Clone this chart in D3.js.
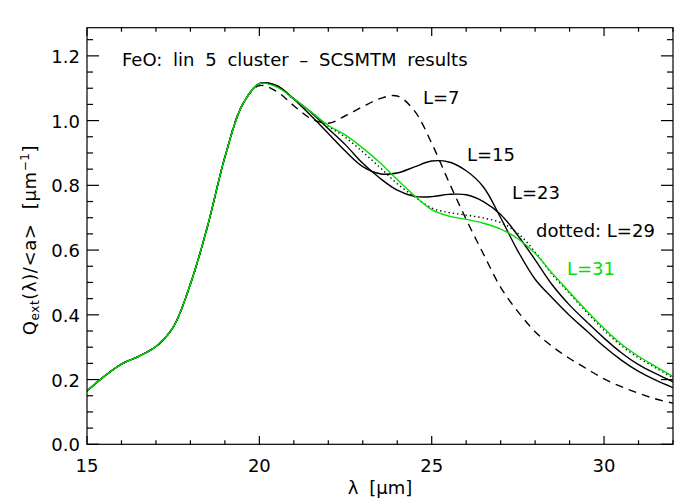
<!DOCTYPE html>
<html><head><meta charset="utf-8">
<script src="https://cdn.jsdelivr.net/npm/d3@7"></script>
<style>
body{margin:0;background:#fff;}
text{font-family:"DejaVu Sans",sans-serif;}
</style></head>
<body><svg id="c" width="700" height="500"></svg>
<script>
// wavelength grid (micron)
const lambda = [15,15.5,16,16.5,17,17.5,18,18.5,19,19.5,20,20.5,21,21.5,22,22.5,23,23.5,24,24.5,25,25.5,26,26.5,27,27.5,28,28.5,29,29.5,30,30.5,31,31.5,32];
// common rising part (15 .. 19.5)
const rise = [0.165,0.210,0.248,0.272,0.302,0.362,0.495,0.675,0.887,1.047];
// values from 20 to 32
const L7  = rise.concat([1.108,1.090,1.046,1.006,0.992,1.015,1.043,1.068,1.076,1.030,0.930,0.810,0.695,0.588,0.485,0.410,0.348,0.302,0.265,0.233,0.202,0.178,0.158,0.140,0.127]);
const L15 = rise.concat([1.114,1.108,1.066,1.015,0.960,0.905,0.858,0.836,0.838,0.857,0.875,0.872,0.845,0.795,0.700,0.597,0.510,0.452,0.398,0.350,0.302,0.260,0.225,0.198,0.175]);
const L23 = rise.concat([1.114,1.108,1.068,1.025,0.975,0.925,0.868,0.822,0.785,0.766,0.765,0.772,0.771,0.750,0.710,0.645,0.570,0.492,0.430,0.378,0.328,0.283,0.246,0.218,0.193]);
const L29 = rise.concat([1.114,1.105,1.066,1.027,0.983,0.948,0.903,0.855,0.805,0.765,0.730,0.716,0.708,0.699,0.685,0.652,0.594,0.524,0.466,0.407,0.352,0.305,0.267,0.236,0.205]);
const L31 = rise.concat([1.114,1.104,1.067,1.027,0.985,0.955,0.915,0.870,0.818,0.768,0.725,0.705,0.695,0.683,0.665,0.635,0.590,0.528,0.470,0.412,0.358,0.310,0.272,0.240,0.209]);

const xMajor = [15,20,25,30];
const xMinor = [16,17,18,19,21,22,23,24,26,27,28,29,31,32];
const yMajor = [0,0.2,0.4,0.6,0.8,1.0,1.2];
const yMinor = [0.05,0.1,0.15,0.25,0.3,0.35,0.45,0.5,0.55,0.65,0.7,0.75,0.85,0.9,0.95,1.05,1.1,1.15,1.25];

const L = 87, R = 673, T = 27.7, B = 444.3;
const svg = d3.select("#c");
const x = d3.scaleLinear().domain([15,32]).range([L,R]);
const y = d3.scaleLinear().domain([0,1.287]).range([B,T]);

svg.append("clipPath").attr("id","pc").append("rect")
  .attr("x",L).attr("y",T).attr("width",R-L).attr("height",B-T);

const line = (vals) => d3.line().x((d,i)=>x(lambda[i])).y(d=>y(d)).curve(d3.curveCatmullRom.alpha(0.5))(vals);
const series = [
  {v:L7, c:"#000", dash:"8,6"},
  {v:L15,c:"#000", dash:null},
  {v:L23,c:"#000", dash:null},
  {v:L29,c:"#000", dash:"1.3,3"},
  {v:L31,c:"#00e000", dash:null}
];
const pg = svg.append("g").attr("clip-path","url(#pc)");
series.forEach(s=>{
  pg.append("path").attr("d",line(s.v)).attr("fill","none")
    .attr("stroke",s.c).attr("stroke-width",1.4)
    .attr("stroke-dasharray",s.dash);
});

// frame
svg.append("rect").attr("x",L).attr("y",T).attr("width",R-L).attr("height",B-T)
  .attr("fill","none").attr("stroke","#000").attr("stroke-width",1.2);

// ticks
const tk = svg.append("g").attr("stroke","#000").attr("stroke-width",1.2);
xMajor.concat(xMinor).forEach(v=>{
  const len = xMajor.includes(v)?8.3:4;
  tk.append("line").attr("x1",x(v)).attr("x2",x(v)).attr("y1",B).attr("y2",B-len);
  tk.append("line").attr("x1",x(v)).attr("x2",x(v)).attr("y1",T).attr("y2",T+len);
});
yMajor.concat(yMinor).forEach(v=>{
  const len = yMajor.includes(v)?12:6;
  tk.append("line").attr("y1",y(v)).attr("y2",y(v)).attr("x1",L).attr("x2",L+len);
  tk.append("line").attr("y1",y(v)).attr("y2",y(v)).attr("x1",R).attr("x2",R-len);
});

// tick labels
xMajor.forEach(v=>{
  svg.append("text").attr("x",x(v)).attr("y",472).attr("text-anchor","middle")
    .attr("font-size",18).text(v);
});
yMajor.forEach(v=>{
  svg.append("text").attr("x",80).attr("y",y(v)+7).attr("text-anchor","end")
    .attr("font-size",18).text(d3.format(".1f")(v));
});

// axis titles
svg.append("text").attr("x",(L+R)/2).attr("y",494).attr("text-anchor","middle")
  .attr("font-size",18).attr("word-spacing",5).text("λ [μm]");
const yl = svg.append("text").attr("transform",`translate(36,240) rotate(-90)`)
  .attr("text-anchor","middle").attr("font-size",18).attr("word-spacing",8).attr("letter-spacing",0.6);
yl.append("tspan").text("Q");
yl.append("tspan").attr("font-size",12).attr("dy",3).text("ext");
yl.append("tspan").attr("dy",-3).text("(λ)/<a> [μm");
yl.append("tspan").attr("font-size",12).attr("dy",-7).text("−1");
yl.append("tspan").attr("dy",7).text("]");

// title and labels
svg.append("text").attr("x",122).attr("y",66).attr("font-size",18).attr("word-spacing",5)
  .text("FeO: lin 5 cluster – SCSMTM results");
const labels = [
  {t:"L=7", x:423, y:104, c:"#000"},
  {t:"L=15", x:467, y:161, c:"#000"},
  {t:"L=23", x:512, y:199, c:"#000"},
  {t:"dotted: L=29", x:536, y:237, c:"#000"},
  {t:"L=31", x:567, y:275, c:"#00e000"}
];
labels.forEach(l=>{
  svg.append("text").attr("x",l.x).attr("y",l.y).attr("font-size",18).attr("fill",l.c).text(l.t);
});
</script></body></html>
